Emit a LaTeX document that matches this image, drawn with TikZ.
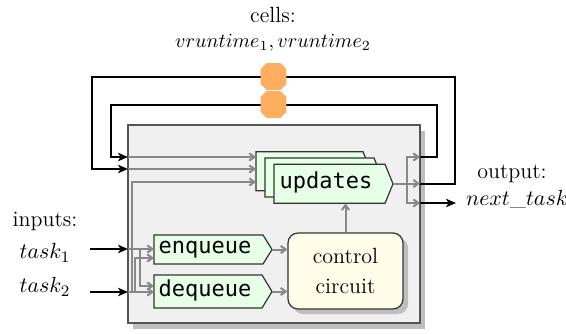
\documentclass[tikz,border=0pt]{standalone}
\usepackage{fontspec}
\newfontfamily\monof{DejaVu Sans Mono}
\usetikzlibrary{arrows.meta,shadows}
\definecolor{boxfill}{HTML}{F0F0F0}
\definecolor{boxborder}{HTML}{555555}
\definecolor{shadowc}{HTML}{BEBEBE}
\definecolor{modfill}{HTML}{E6FFE6}
\definecolor{modborder}{HTML}{333333}
\definecolor{ctrlfill}{HTML}{FFFCE8}
\definecolor{cellc}{HTML}{FFAD5E}
\definecolor{wirec}{HTML}{888888}
\pgfdeclarelayer{fg}
\pgfsetlayers{main,fg}
\newcommand\chamferfill[1]{%
  \fill[cellc] ([xshift=3pt]#1.north west) -- ([xshift=-3pt]#1.north east)
    -- ([yshift=-3pt]#1.north east) -- ([yshift=3pt]#1.south east)
    -- ([xshift=-3pt]#1.south east) -- ([xshift=3pt]#1.south west)
    -- ([yshift=3pt]#1.south west) -- ([yshift=-3pt]#1.north west) -- cycle;}
\tikzset{
  wire/.style={draw=wirec, line width=1pt, -{Straight Barb[length=2.5pt,width=3.6pt]}},
  bwire/.style={draw=black, line width=1pt, -{Stealth[length=5pt,width=4.2pt,inset=1.3pt]}},
  modshape/.style={fill=modfill, draw=modborder, line width=0.6pt},
  modtext/.style={font=\monof\fontsize{11}{13}\selectfont, inner sep=0pt, anchor=mid},
  lbl/.style={font=\fontsize{11}{13}\selectfont, inner sep=0pt},
  mainbox/.style={draw=boxborder, fill=boxfill, line width=0.8pt, minimum width=146pt,
    minimum height=99pt, inner sep=0pt,
    drop shadow={shadow xshift=2.5pt, shadow yshift=-3pt, opacity=1, fill=shadowc}},
  ctrlbox/.style={draw=modborder, fill=ctrlfill, line width=0.6pt, rounded corners=5pt,
    minimum width=57.5pt, minimum height=38pt, inner sep=0pt, align=center,
    font=\fontsize{11}{15}\selectfont,
    drop shadow={shadow xshift=2.5pt, shadow yshift=-2.5pt, opacity=1, fill=shadowc}},
  cell/.style={rectangle, draw=none, minimum width=12.5pt, minimum height=13pt, inner sep=0pt}
}
\begin{document}
\begin{tikzpicture}[x=0.5pt,y=-0.5pt]
\useasboundingbox (0,0) rectangle (566,333);

% labels
\node[lbl] (cellslbl) at (273,15) {cells:};
\node[lbl, font=\fontsize{10.2}{13}\selectfont] (vrt) at (273,43) {$vruntime_1, vruntime_2$};
\node[lbl] (inlbl) at (45,221) {inputs:};
\node[lbl] (t1) at (45,253) {$task_1$};
\node[lbl] (t2) at (45,287) {$task_2$};
\node[lbl] (outlbl) at (512,174) {output:};
\node[lbl] (nt) at (517,199) {$next\_task$};

% cells on foreground layer
\begin{pgfonlayer}{fg}
\node[cell] (c1) at (273.5,76.5) {};
\node[cell] (c2) at (273.5,104.5) {};
\chamferfill{c1}
\chamferfill{c2}
\end{pgfonlayer}

% main box
\node[mainbox] (main) at (274,224) {};

% border coordinates
\coordinate (in1) at (128,157);
\coordinate (in2) at (128,169);
\coordinate (in3) at (128,249);
\coordinate (in4) at (128,292);
\coordinate (ob1) at (420,157);
\coordinate (ob2) at (420,183.5);
\coordinate (ob3) at (420,203);

% updates stack
\path[modshape] (256,151.7) -- (363,151.7) -- (371,171.2) -- (363,190.7) -- (256,190.7) -- cycle;
\path[modshape] (265,158) -- (374,158) -- (382,177.5) -- (374,197) -- (265,197) -- cycle;
\path[modshape] (274,164.3) -- (385,164.3) -- (393,183.8) -- (385,203.3) -- (274,203.3) -- cycle;
\node[modtext] (upd) at (326,184.5) {updates};
\coordinate (u1) at (256,157);
\coordinate (u2) at (256,169);
\coordinate (u3) at (256,182);
\coordinate (utip) at (393,183.5);
\coordinate (ubot) at (345.5,203.3);

% enqueue / dequeue
\path[modshape] (154,235) -- (263,235) -- (272,249.5) -- (263,264) -- (154,264) -- cycle;
\path[modshape] (154,275) -- (262,275) -- (272,291.5) -- (262,308) -- (154,308) -- cycle;
\node[modtext] (enq) at (205,249.5) {enqueue};
\node[modtext] (deq) at (205,292.5) {dequeue};
\coordinate (etip) at (272,249.5);
\coordinate (dtip) at (272,291.5);
\coordinate (e1) at (154,249);
\coordinate (e2) at (154,258);
\coordinate (d1) at (154,286);
\coordinate (d2) at (154,292);

% control circuit
\node[ctrlbox] (ctrl) at (345.5,271) {control\\circuit};

% gray wires
\draw[wire] (in1) -- (u1);
\draw[wire] (in2) -- (u2);
\draw[wire] (in4) -- (132,292) |- (u3);
\draw[wire] (in3) -- (e1);
\draw[wire] (140,249) |- (d1);
\draw[wire] (in4) -- (d2);
\draw[wire] (135,292) |- (e2);
\draw[wire] (etip) -- (ctrl.west |- etip);
\draw[wire] (dtip) -- (ctrl.west |- dtip);
\draw[wire] (ctrl.north) -- (ubot);
\draw[wire] (utip) -- (ob2);
\draw[wire] (407,183.5) |- (ob1);
\draw[wire] (407,183.5) |- (ob3);

% black wires
\draw[bwire] (ob2) -- (455,183.5) |- (c1.center) -| (92,169) -- (in2);
\draw[bwire] (ob1) -- (437,157) |- (c2.center) -| (111,157) -- (in1);
\coordinate (a1) at (90,249);
\coordinate (a2) at (90,292);
\draw[bwire] (a1) -- (in3);
\draw[bwire] (a2) -- (in4);
\coordinate (a3) at (456,203);
\draw[bwire] (ob3) -- (a3);
\end{tikzpicture}
\end{document}
